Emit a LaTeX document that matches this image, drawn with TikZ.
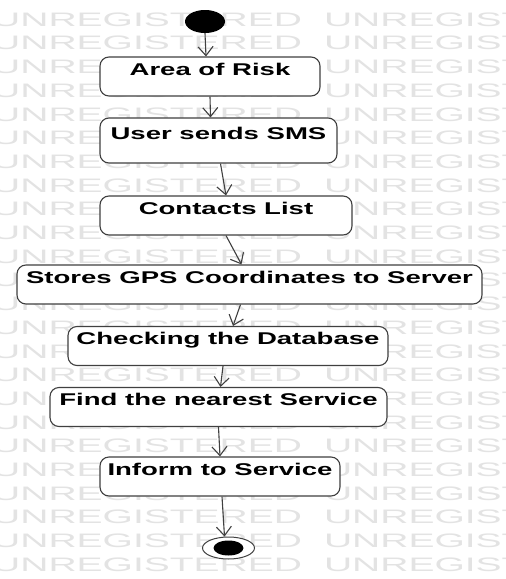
\documentclass[tikz,border=0pt]{standalone}
\usepackage{fontspec}
\usepackage{tikz}
\usetikzlibrary{arrows.meta,shapes.geometric}
\newfontfamily\actfont[FakeStretch=1.62]{Liberation Sans}
\newfontfamily\wmfont[FakeStretch=2.0]{Liberation Sans}
\tikzset{
actbox/.style={draw=black!75, line width=1.1pt, rounded corners=9pt, fill=white, inner xsep=0pt, inner ysep=2pt, text height=16pt, text depth=19pt, align=center, font=\actfont\bfseries\fontsize{17}{20}\selectfont},
wmark/.style={anchor=west, inner sep=0pt, text=black!11, font=\wmfont\fontsize{19.5}{22}\selectfont},
startdot/.style={ellipse, fill=black, minimum width=40pt, minimum height=23pt, inner sep=0pt},
enddot/.style={ellipse, draw=black!75, line width=1pt, fill=white, minimum width=52pt, minimum height=22pt, inner sep=0pt},
arr/.style={draw=black!75, line width=1.1pt, -{Straight Barb[length=9pt, width=15pt]}}
}

\begin{document}
\begin{tikzpicture}
\useasboundingbox (0pt, 0pt) rectangle (506pt, -579pt);
\clip (0pt, 0pt) rectangle (506pt, -579pt);
\fill[white] (0pt, 0pt) rectangle (506pt, -579pt);
% watermark rows
\foreach \k in {0,...,23}
\node[wmark] (wm\k) at (-8pt, {-19.5pt-23.7pt*\k}) {UNREGISTERED\hspace{22pt}UNREGISTERED};
\node[startdot] (start) at (205pt, -21.5pt) {};
\node[actbox, minimum width=220pt] (risk) at (210pt, -76.5pt) {Area of Risk};
\node[actbox, minimum width=237pt, minimum height=45pt] (sms) at (218.5pt, -140.5pt) {User sends SMS};
\node[actbox, minimum width=252pt] (contacts) at (226pt, -215.5pt) {Contacts List};
\node[actbox, minimum width=465pt] (gps) at (249.5pt, -284.5pt) {Stores GPS Coordinates to Server};
\node[actbox, minimum width=320pt] (db) at (228pt, -346pt) {Checking the Database};
\node[actbox, minimum width=337pt] (nearest) at (218.5pt, -407pt) {Find the nearest Service};
\node[actbox, minimum width=240pt] (inform) at (220pt, -476.5pt) {Inform to Service};
\node[enddot] (final) at (228.5pt, -548pt) {};
\fill (final.center) ellipse (15pt and 7.5pt);
\draw[arr] (start.south) -- ([xshift=-4pt]risk.north);
\draw[arr] (risk.south) -- ([xshift=-8pt]sms.north);
\draw[arr] ([xshift=2pt]sms.south) -- (contacts.north);
\draw[arr] (contacts.south) -- ([xshift=-8pt]gps.north);
\draw[arr] ([xshift=-9pt]gps.south) -- ([xshift=5pt]db.north);
\draw[arr] ([xshift=-5pt]db.south) -- ([xshift=2pt]nearest.north);
\draw[arr] (nearest.south) -- (inform.north);
\draw[arr] ([xshift=2pt]inform.south) -- ([xshift=-4pt]final.north);
\end{tikzpicture}
\end{document}
